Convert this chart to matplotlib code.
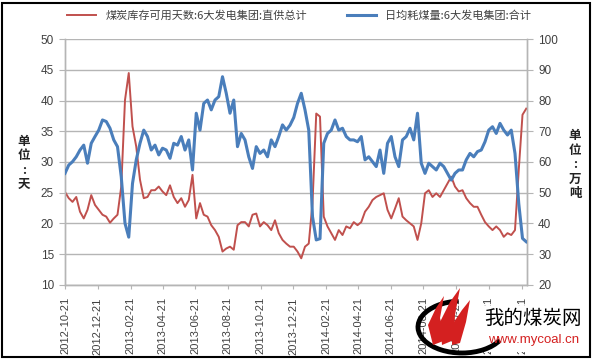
import matplotlib
matplotlib.use("Agg")
import matplotlib.pyplot as plt
from matplotlib.patches import Rectangle, Arc, Polygon
import numpy as np
import pandas as pd

plt.rcParams['font.family'] = ['Noto Sans CJK SC', 'DejaVu Sans']

# ---- data (weekly samples) ----
start_date = "2012-10-21"
n_weeks = 124
red_days = [25.1, 24.1, 23.5, 24.3, 21.9, 20.8, 22.2, 24.6, 23.0, 22.2,
            21.4, 21.1, 20.1, 20.8, 21.4, 26.0, 40.1, 44.5, 35.8, 32.5,
            27.1, 24.1, 24.3, 25.4, 25.4, 26.0, 25.2, 24.6, 26.2, 24.3,
            23.3, 24.1, 22.7, 23.8, 27.9, 20.8, 23.3, 21.4, 21.1, 19.7,
            18.9, 17.8, 15.4, 15.9, 16.2, 15.7, 19.7, 20.2, 20.2, 19.5,
            21.4, 21.6, 19.5, 20.2, 19.7, 18.9, 20.5, 18.4, 17.3, 16.7,
            16.2, 16.2, 15.4, 14.3, 16.2, 16.7, 23.3, 37.9, 37.4, 21.1,
            19.5, 18.4, 17.3, 18.9, 18.1, 19.5, 19.2, 20.2, 19.7, 20.2,
            21.9, 22.7, 23.8, 24.3, 24.6, 24.9, 22.2, 20.8, 22.4, 24.1,
            21.1, 20.5, 20.0, 19.5, 17.3, 20.0, 24.9, 25.4, 24.3, 24.9,
            24.3, 25.4, 26.5, 27.6, 26.0, 25.2, 25.4, 24.1, 23.3, 22.7,
            22.7, 21.4, 20.2, 19.5, 18.9, 19.5, 18.9, 17.8, 18.4, 18.1,
            18.9, 28.7, 37.7, 38.7]
blue_consumption = [56.3, 59.0, 60.1, 61.7, 63.9, 65.5, 59.6, 66.1, 68.3, 70.4,
                    73.7, 73.2, 71.0, 67.2, 65.0, 55.2, 40.0, 35.5, 53.0, 60.7,
                    66.1, 70.4, 68.3, 63.9, 65.5, 62.3, 64.5, 63.9, 61.2, 66.1,
                    65.5, 68.3, 63.9, 67.2, 57.4, 75.9, 70.4, 79.1, 80.2, 77.0,
                    80.2, 81.3, 87.8, 82.4, 75.9, 80.2, 65.0, 69.3, 67.2, 61.7,
                    57.9, 65.0, 62.8, 63.9, 61.7, 67.2, 65.0, 68.3, 72.1, 70.4,
                    72.0, 74.5, 79.1, 82.4, 77.0, 70.4, 42.2, 34.6, 35.0, 66.1,
                    69.3, 70.4, 73.7, 70.4, 71.0, 68.3, 67.2, 67.2, 66.6, 68.3,
                    60.7, 61.7, 60.1, 58.5, 63.9, 56.3, 66.1, 68.3, 61.7, 58.5,
                    67.2, 68.3, 71.0, 67.2, 75.9, 59.6, 56.3, 59.6, 58.5, 57.4,
                    59.6, 58.5, 56.3, 54.1, 56.3, 57.4, 57.4, 60.7, 62.8, 61.7,
                    63.4, 63.9, 66.6, 70.4, 71.5, 69.3, 72.6, 70.4, 68.8, 70.4,
                    62.8, 46.5, 35.1, 34.0]
tick_dates = ["2012-10-21", "2012-12-21", "2013-02-21", "2013-04-21", "2013-06-21",
              "2013-08-21", "2013-10-21", "2013-12-21", "2014-02-21", "2014-04-21",
              "2014-06-21", "2014-08-21", "2014-10-21", "2014-12-21", "2015-02-21"]
left_ticks = [10, 15, 20, 25, 30, 35, 40, 45, 50]
right_ticks = [20, 30, 40, 50, 60, 70, 80, 90, 100]
label_red = "煤炭库存可用天数:6大发电集团:直供总计"
label_blue = "日均耗煤量:6大发电集团:合计"

dates = pd.date_range(start_date, periods=n_weeks, freq="7D")
assert len(red_days) == n_weeks and len(blue_consumption) == n_weeks

RED = "#C0504D"
BLUE = "#4A7EBB"
TXT = "#404040"
GRID = "#B5B5B5"

W, H = 592, 360
fig = plt.figure(figsize=(W/100, H/100), dpi=100)
ax = fig.add_axes([65/W, 1-284.7/H, (527-65)/W, (284.7-39.3)/H])
ax2 = ax.twinx()

l1, = ax.plot(dates, red_days, color=RED, lw=1.4, zorder=3)
l2, = ax2.plot(dates, blue_consumption, color=BLUE, lw=2.2, zorder=4)

x0 = pd.Timestamp(start_date)
x1 = x0 + pd.Timedelta(days=7 * 123.2)
ax.set_xlim(x0, x1)
ax.set_ylim(10, 50)
ax2.set_ylim(20, 100)
ax.set_yticks(left_ticks)
ax2.set_yticks(right_ticks)
ax.set_xticks(pd.to_datetime(tick_dates))
ax.set_xticklabels(tick_dates, rotation=90, fontfamily="Liberation Sans",
                   fontsize=8, color=TXT)
for lab in ax.get_yticklabels():
    lab.set_fontfamily("Liberation Sans")
for lab in ax2.get_yticklabels():
    lab.set_fontfamily("Liberation Sans")
ax.tick_params(axis="y", labelsize=8.5, colors=TXT, length=4, color=GRID, pad=4)
ax2.tick_params(axis="y", labelsize=8.5, colors=TXT, length=4, color=GRID, pad=4)
ax.tick_params(axis="x", length=3, color=GRID, pad=6)

ax.grid(axis="y", color=GRID, lw=1.0)
ax.set_axisbelow(True)
for a in (ax, ax2):
    a.spines["top"].set_visible(False)
    for s in ("left", "right", "bottom"):
        a.spines[s].set_color(GRID)
        a.spines[s].set_linewidth(1.0)

fig.text(24/W, 1-163/H, "单\n位\n:\n天", ha="center", va="center",
         fontsize=9, fontweight="bold", color="#222222", linespacing=1.15)
fig.text(575/W, 1-165/H, "单\n位\n:\n万\n吨", ha="center", va="center",
         fontsize=9, fontweight="bold", color="#222222", linespacing=1.15)

fig.legend([l1, l2], [label_red, label_blue], loc="upper center",
           bbox_to_anchor=(0.505, 1.0), ncol=2, frameon=False, fontsize=8,
           handlelength=2.6, columnspacing=3.6, labelcolor=TXT)

# watermark (logo of the source site)
fig.patches.append(Rectangle((478/W, 1-352/H), 108/W, 46/H, transform=fig.transFigure,
                             facecolor="white", edgecolor="none", zorder=4))
fig.patches.append(Arc((462/W, 1-327/H), 88/W, 52/H, angle=0,
                       theta1=95, theta2=330, transform=fig.transFigure,
                       color="black", lw=3.5, zorder=5))
flames = [
    [(433, 345), (428, 325), (436, 308), (444, 296), (440, 318), (446, 340)],
    [(442, 345), (440, 322), (450, 302), (460, 288), (455, 315), (454, 340)],
    [(452, 345), (452, 325), (462, 310), (470, 300), (466, 322), (460, 343)],
]
for fl in flames:
    fig.patches.append(Polygon([(px/W, 1-py/H) for px, py in fl], closed=True,
                               transform=fig.transFigure, facecolor="#D42020",
                               edgecolor="none", zorder=6))
fig.text(533/W, 1-318/H, "我的煤炭网", ha="center", va="center",
         fontsize=14, color="black", zorder=7)
fig.text(534/W, 1-340/H, "www.mycoal.cn", ha="center", va="center",
         fontsize=9.5, color="#D42020", fontfamily="Liberation Sans", zorder=7)

fig.patches.append(Rectangle((2/W, 3/H), 588/W, 354/H, fill=False,
                             edgecolor="black", lw=1.5, transform=fig.transFigure,
                             zorder=8))

fig.savefig("out.png", dpi=100)
